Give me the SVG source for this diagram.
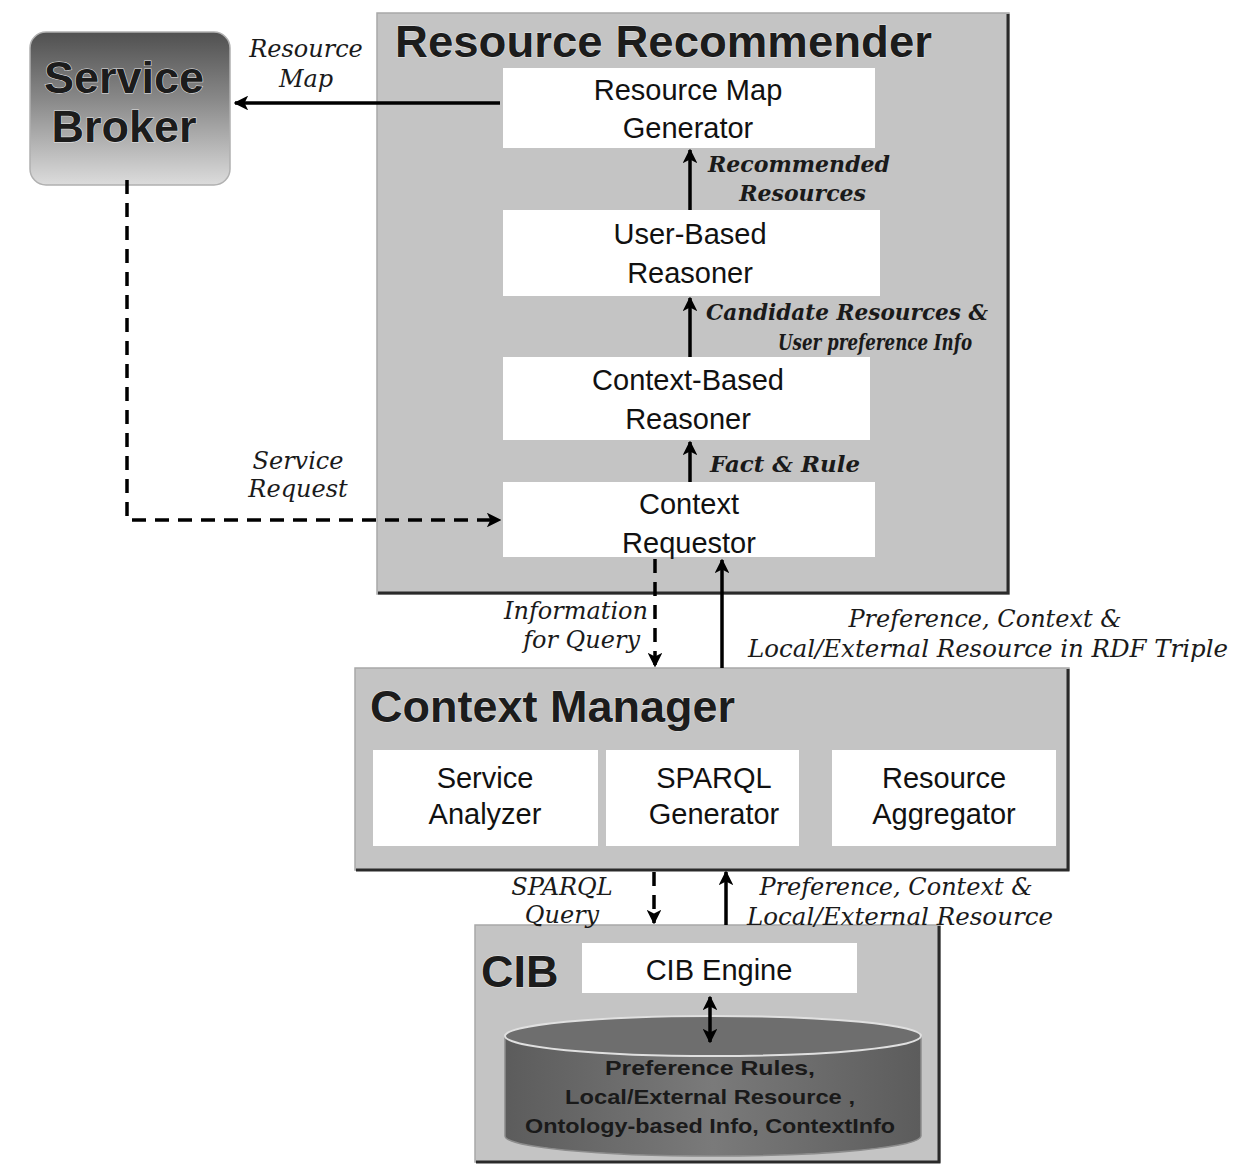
<svg xmlns="http://www.w3.org/2000/svg" width="1254" height="1165" viewBox="0 0 1254 1165">
  <style>
    .panel { fill: #c4c4c4; stroke: #a8a8a8; stroke-width: 1.5; }
    .edge { stroke: #2a2a2a; stroke-width: 3; fill: none; }
    .box { fill: #ffffff; }
    .title { font-family: "Liberation Sans", Arial, sans-serif; font-weight: bold; font-size: 45px; fill: #1c1c1c; stroke: #e6e6e6; stroke-width: 1; paint-order: stroke; }
    .lbl { font-family: "Liberation Sans", Arial, sans-serif; font-size: 29px; fill: #111; text-anchor: middle; }
    .it { font-family: "DejaVu Serif", "Liberation Serif", serif; font-style: italic; font-size: 24px; fill: #1a1a1a; }
    .bi { font-family: "DejaVu Serif", "Liberation Serif", serif; font-style: italic; font-weight: bold; font-size: 22px; fill: #1a1a1a; }
    .line { stroke: #000; stroke-width: 3.5; fill: none; }
    .dash { stroke: #000; stroke-width: 3.5; fill: none; stroke-dasharray: 14 9; }
    .db { font-family: "Liberation Sans", Arial, sans-serif; font-weight: bold; font-size: 21px; fill: #1a1a1a; text-anchor: middle; }
  </style>
  <defs>
    <marker id="head" viewBox="0 0 10 10" refX="9" refY="5" markerWidth="4.2" markerHeight="4.2" orient="auto-start-reverse" markerUnits="strokeWidth">
      <path d="M0,0 L10,5 L0,10 L2.5,5 Z" fill="#000"/>
    </marker>
    <linearGradient id="brokerFill" x1="0" y1="0" x2="0" y2="1">
      <stop offset="0" stop-color="#505050"/>
      <stop offset="0.45" stop-color="#8a8a8a"/>
      <stop offset="1" stop-color="#dcdcdc"/>
    </linearGradient>
    <linearGradient id="drumFill" x1="0" y1="0" x2="1" y2="0">
      <stop offset="0" stop-color="#5c5c5c"/>
      <stop offset="0.5" stop-color="#7a7a7a"/>
      <stop offset="1" stop-color="#5c5c5c"/>
    </linearGradient>
  </defs>

  <rect width="1254" height="1165" fill="#ffffff"/>

  <!-- Service Broker -->
  <g id="service-broker">
    <rect x="30" y="32" width="200" height="153" rx="16" fill="url(#brokerFill)" stroke="#b0b0b0" stroke-width="1.5"/>
    <text x="124" y="93" class="title" font-size="37" text-anchor="middle">Service</text>
    <text x="124" y="142" class="title" font-size="37" text-anchor="middle">Broker</text>
  </g>

  <!-- Resource Recommender -->
  <g id="resource-recommender">
    <rect x="377" y="13" width="632" height="581" class="panel"/>
    <path d="M1008,14 V593 H378" class="edge"/>
    <text x="395" y="57" class="title" textLength="537" lengthAdjust="spacingAndGlyphs">Resource Recommender</text>
  </g>
  <g id="resource-map-generator">
    <rect x="503" y="68" width="372" height="80" class="box"/>
    <text x="688" y="100" class="lbl">Resource Map</text>
    <text x="688" y="138" class="lbl">Generator</text>
  </g>
  <g id="user-based-reasoner">
    <rect x="503" y="210" width="377" height="86" class="box"/>
    <text x="690" y="244" class="lbl">User-Based</text>
    <text x="690" y="283" class="lbl">Reasoner</text>
  </g>
  <g id="context-based-reasoner">
    <rect x="503" y="357" width="367" height="83" class="box"/>
    <text x="688" y="390" class="lbl">Context-Based</text>
    <text x="688" y="429" class="lbl">Reasoner</text>
  </g>
  <g id="context-requestor">
    <rect x="503" y="482" width="372" height="75" class="box"/>
    <text x="689" y="514" class="lbl">Context</text>
    <text x="689" y="553" class="lbl">Requestor</text>
  </g>

  <!-- Context Manager -->
  <g id="context-manager">
    <rect x="355" y="668" width="714" height="202" class="panel"/>
    <path d="M1068,669 V870 H356" class="edge" stroke-width="2.5"/>
    <text x="370" y="722" class="title">Context Manager</text>
  </g>
  <g id="service-analyzer">
    <rect x="373" y="750" width="225" height="96" class="box"/>
    <text x="485" y="788" class="lbl">Service</text>
    <text x="485" y="824" class="lbl">Analyzer</text>
  </g>
  <g id="sparql-generator">
    <rect x="606" y="750" width="193" height="96" class="box"/>
    <text x="714" y="788" class="lbl">SPARQL</text>
    <text x="714" y="824" class="lbl">Generator</text>
  </g>
  <g id="resource-aggregator">
    <rect x="832" y="750" width="224" height="96" class="box"/>
    <text x="944" y="788" class="lbl">Resource</text>
    <text x="944" y="824" class="lbl">Aggregator</text>
  </g>

  <!-- CIB -->
  <g id="cib">
    <rect x="475" y="925" width="465" height="237" class="panel"/>
    <path d="M939,926 V1162 H476" class="edge" stroke-width="2"/>
    <text x="481" y="987" class="title" font-size="46">CIB</text>
  </g>
  <g id="cib-engine">
    <rect x="582" y="943" width="275" height="50" class="box"/>
    <text x="719" y="980" class="lbl">CIB Engine</text>
  </g>
  <g id="cib-store">
    <path d="M505,1036 V1136 A208,20 0 0 0 921,1136 V1036" fill="url(#drumFill)" stroke="#8c8c8c" stroke-width="1.5"/>
    <ellipse cx="713" cy="1036" rx="208" ry="20" fill="#6e6e6e" stroke="#e0e0e0" stroke-width="2"/>
    <text x="710" y="1075" class="db" textLength="210" lengthAdjust="spacingAndGlyphs">Preference Rules,</text>
    <text x="710" y="1104" class="db" textLength="290" lengthAdjust="spacingAndGlyphs">Local/External Resource ,</text>
    <text x="710" y="1133" class="db" textLength="370" lengthAdjust="spacingAndGlyphs">Ontology-based Info, ContextInfo</text>
  </g>

  <!-- Connectors -->
  <g id="connectors">
    <line x1="500" y1="103" x2="235" y2="103" class="line" marker-end="url(#head)"/>
    <line x1="690" y1="210" x2="690" y2="150" class="line" marker-end="url(#head)"/>
    <line x1="690" y1="357" x2="690" y2="298" class="line" marker-end="url(#head)"/>
    <line x1="690" y1="482" x2="690" y2="442" class="line" marker-end="url(#head)"/>
    <path d="M127,180 V520 H500" class="dash" marker-end="url(#head)"/>
    <line x1="655" y1="559" x2="655" y2="666" class="dash" stroke-dasharray="10 7" marker-end="url(#head)"/>
    <line x1="722" y1="668" x2="722" y2="560" class="line" marker-end="url(#head)"/>
    <line x1="654" y1="872" x2="654" y2="923" class="dash" stroke-dasharray="10 7" marker-end="url(#head)"/>
    <line x1="726" y1="925" x2="726" y2="872" class="line" marker-end="url(#head)"/>
    <line x1="710" y1="997" x2="710" y2="1042" class="line" marker-start="url(#head)" marker-end="url(#head)"/>

    <text x="306" y="57" class="it" text-anchor="middle">Resource</text>
    <text x="306" y="87" class="it" text-anchor="middle">Map</text>
    <text x="890" y="172" class="bi" text-anchor="end" textLength="182" lengthAdjust="spacingAndGlyphs">Recommended</text>
    <text x="866" y="201" class="bi" text-anchor="end">Resources</text>
    <text x="706" y="320" class="bi" textLength="282" lengthAdjust="spacingAndGlyphs">Candidate Resources &amp;</text>
    <text x="778" y="350" class="bi" textLength="194" lengthAdjust="spacingAndGlyphs">User preference Info</text>
    <text x="710" y="472" class="bi" textLength="150" lengthAdjust="spacingAndGlyphs">Fact &amp; Rule</text>
    <text x="298" y="469" class="it" text-anchor="middle">Service</text>
    <text x="298" y="497" class="it" text-anchor="middle">Request</text>
    <text x="648" y="619" class="it" text-anchor="end">Information</text>
    <text x="640" y="648" class="it" text-anchor="end">for Query</text>
    <text x="985" y="627" class="it" text-anchor="middle">Preference, Context &amp;</text>
    <text x="988" y="657" class="it" text-anchor="middle" textLength="480" lengthAdjust="spacingAndGlyphs">Local/External Resource in RDF Triple</text>
    <text x="562" y="895" class="it" text-anchor="middle">SPARQL</text>
    <text x="562" y="923" class="it" text-anchor="middle">Query</text>
    <text x="896" y="895" class="it" text-anchor="middle">Preference, Context &amp;</text>
    <text x="900" y="925" class="it" text-anchor="middle" textLength="306" lengthAdjust="spacingAndGlyphs">Local/External Resource</text>
  </g>
</svg>
